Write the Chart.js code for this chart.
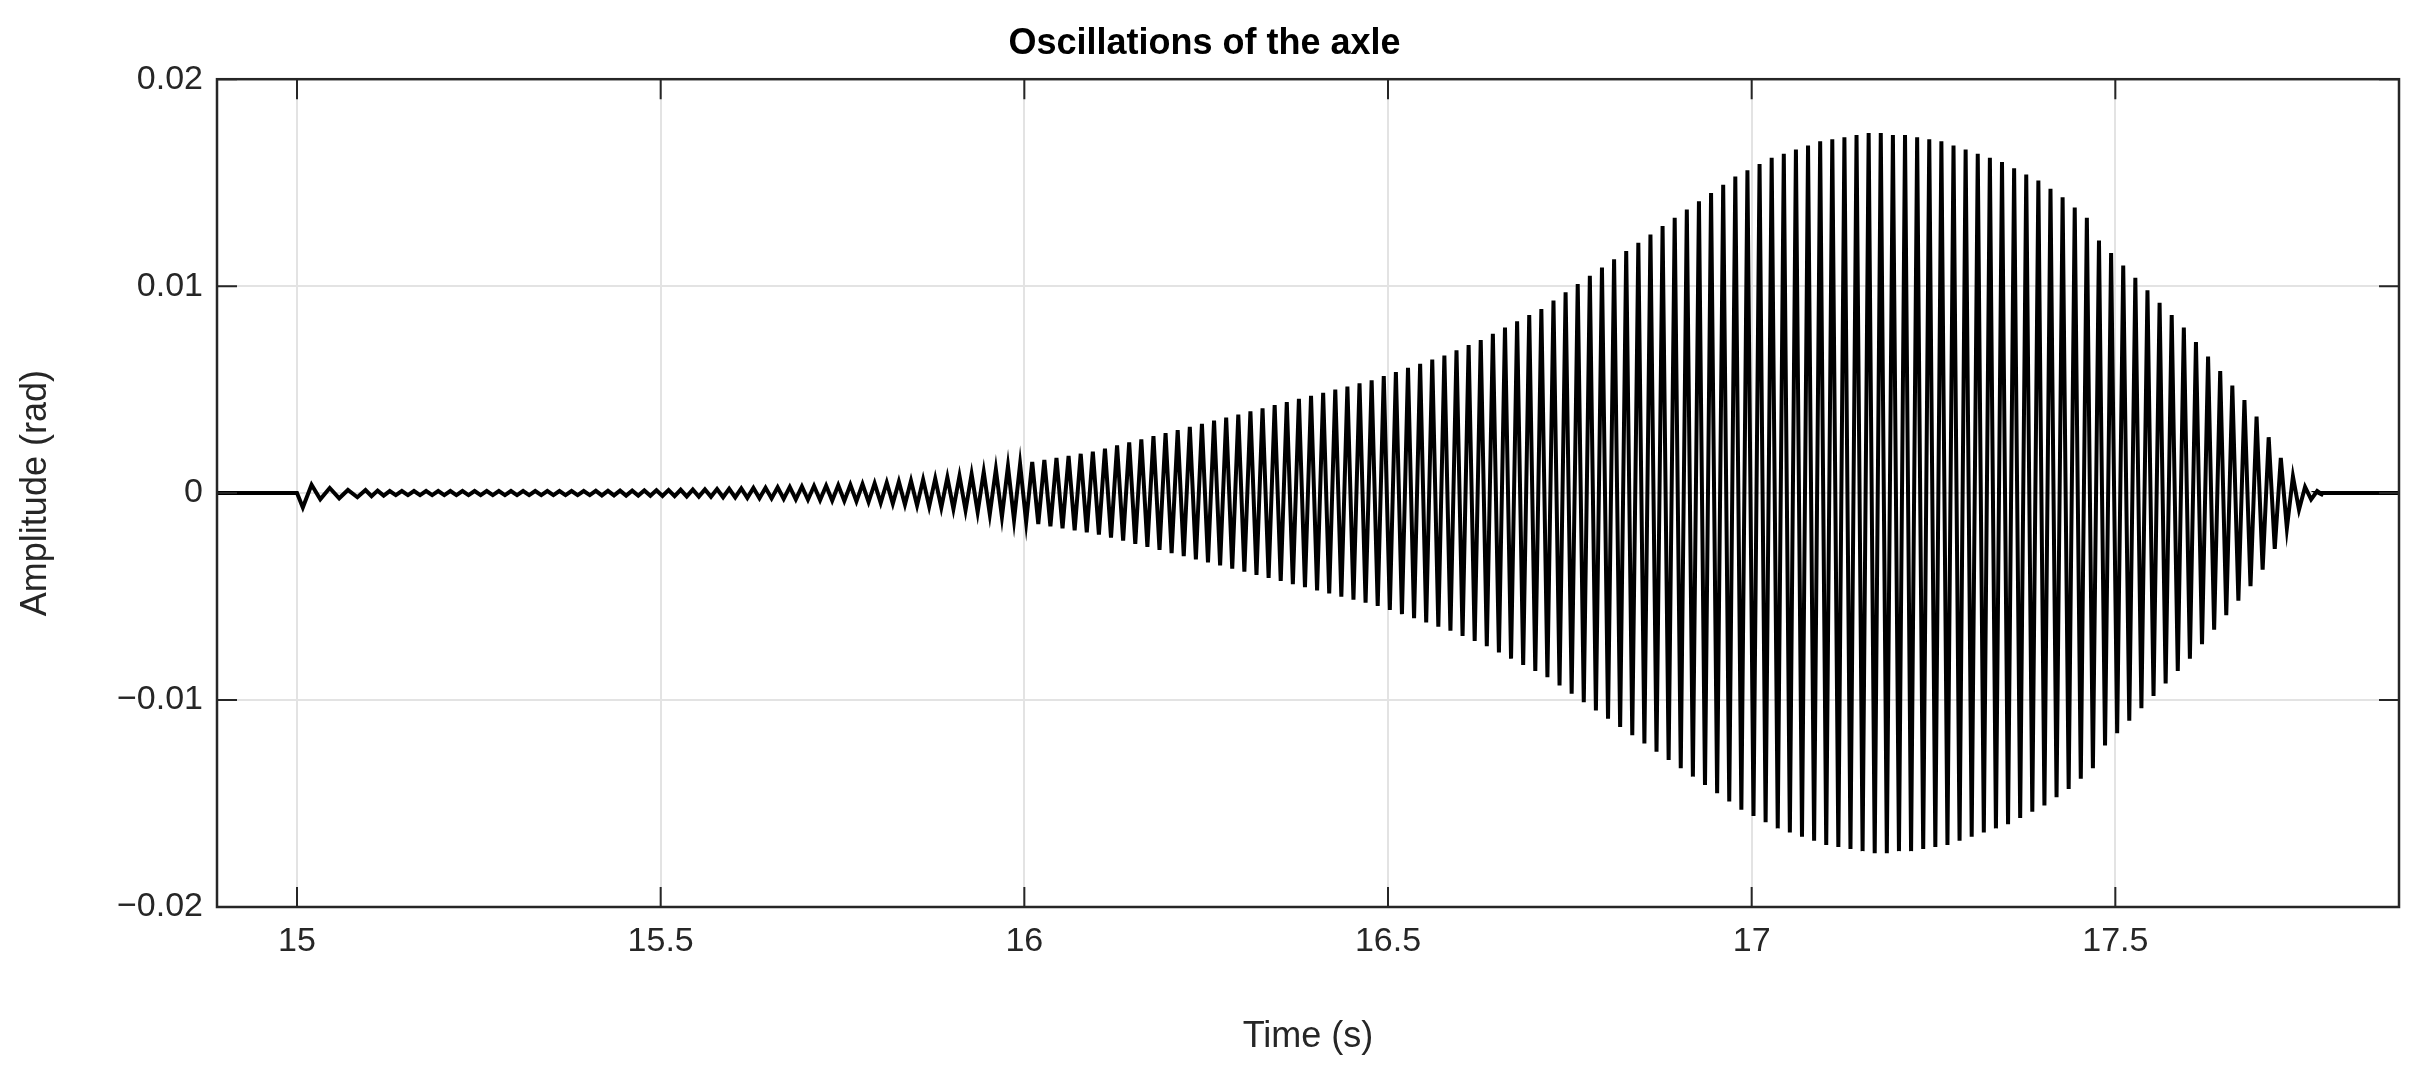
<!DOCTYPE html>
<html>
<head>
<meta charset="utf-8">
<script src="https://cdn.jsdelivr.net/npm/chart.js@4/dist/chart.umd.min.js"></script>
<style>
  html, body { margin: 0; padding: 0; background: #fff; }
  #wrap { width: 2421px; height: 1073px; }
</style>
</head>
<body>
<div id="wrap"><canvas id="axle" width="2421" height="1073"></canvas></div>
<script>
// axis ranges and ticks
const xTicks = [15, 15.5, 16, 16.5, 17, 17.5];
const yTicks = [-0.02, -0.01, 0, 0.01, 0.02];
const xRange = [14.89, 17.89];

// transient right after the excitation starts: [time (s), amplitude (1e-4 rad)]
const startTransient = [
    [14.89, 0], [15.0, 0], [15.008, -7], [15.02, 4], [15.032, -3],
    [15.045, 2.5], [15.058, -2.5], [15.07, 1.5], [15.083, -2]
];

// peak amplitude of each cycle (1e-4 rad), one cycle per 1/60 s from 15.09
const cycleStart = 15.09;
const cyclePeriod = 1 / 60;
const peakAmp = [
    1.5, 1.2, 1, 1, 1,
    1, 1, 1, 1, 1, 1,
    1, 1, 1, 1, 1, 1,
    1, 1, 1.1, 1.1, 1.2, 1.2,
    1.3, 1.4, 1.5, 1.6, 1.7, 1.8,
    2, 2.1, 2.3, 2.5, 2.6, 2.8,
    3, 3.2, 3.4, 3.6, 3.8, 4,
    4.3, 4.7, 5.1, 5.5, 6, 6.5,
    7, 7.6, 8.3, 9.2, 10.2, 11.5,
    13, 14, 15, 16, 17, 18,
    19, 20, 21.5, 23, 24.5, 26,
    27.5, 29, 30.5, 32, 33.5, 35,
    36.5, 38, 39.5, 41, 42.5, 44,
    45.5, 47, 48.5, 50, 51.5, 53,
    54.5, 56.5, 58.5, 60.5, 62.5, 64.5,
    66.5, 69, 71.5, 74, 77, 80,
    83, 86, 89, 93, 97, 101,
    105, 109, 113, 117, 121, 125,
    129, 133, 137, 141, 145, 149,
    153, 156, 159, 162, 164, 166,
    168, 170, 171, 172, 173, 174,
    174, 173, 173, 172, 171, 170,
    168, 166, 164, 162, 160, 157,
    154, 151, 147, 143, 138, 133,
    122, 116, 110, 104, 98, 92,
    86, 80, 73, 66, 59, 52,
    45, 37, 27, 17, 8, 3, 1
];
const endRest = [[17.78, 0], [17.89, 0]];

const points = startTransient.map(p => ({ x: p[0], y: p[1] * 1e-4 }));
peakAmp.forEach((a, i) => {
    const t = cycleStart + i * cyclePeriod;
    points.push({ x: t + cyclePeriod * 0.25, y: a * 1e-4 });
    points.push({ x: t + cyclePeriod * 0.75, y: -a * 1e-4 });
});
endRest.forEach(p => points.push({ x: p[0], y: p[1] }));

const fontFamily = '"Liberation Sans", Arial, sans-serif';
const boxPlugin = {
    id: 'box',
    afterDraw(chart) {
        const a = chart.chartArea, c = chart.ctx;
        c.save();
        c.strokeStyle = '#262626';
        c.lineWidth = 2.5;
        c.strokeRect(a.left, a.top, a.right - a.left, a.bottom - a.top);
        // inward ticks like the original
        c.lineWidth = 2;
        xTicks.forEach(v => {
            const px = chart.scales.x.getPixelForValue(v);
            c.beginPath();
            c.moveTo(px, a.bottom); c.lineTo(px, a.bottom - 20);
            c.moveTo(px, a.top); c.lineTo(px, a.top + 20);
            c.stroke();
        });
        yTicks.forEach(v => {
            const py = chart.scales.y.getPixelForValue(v);
            c.beginPath();
            c.moveTo(a.left, py); c.lineTo(a.left + 20, py);
            c.moveTo(a.right, py); c.lineTo(a.right - 20, py);
            c.stroke();
        });
        c.restore();
    }
};

const fmt = v => v === 0 ? '0' : String(v).replace('-', '\u2212');

new Chart(document.getElementById('axle').getContext('2d'), {
    type: 'line',
    data: {
        datasets: [{
            data: points,
            borderColor: '#000',
            borderWidth: 4,
            pointRadius: 0,
            tension: 0,
            fill: false
        }]
    },
    options: {
        responsive: false,
        animation: false,
        parsing: false,
        layout: { padding: { left: 10, right: 22, top: 0, bottom: 10 } },
        plugins: {
            legend: { display: false },
            tooltip: { enabled: false },
            title: {
                display: true,
                text: 'Oscillations of the axle',
                color: '#000',
                font: { family: fontFamily, size: 36, weight: 'bold' },
                padding: { top: 22, bottom: 14 }
            }
        },
        scales: {
            x: {
                type: 'linear',
                min: xRange[0],
                max: xRange[1],
                afterBuildTicks: s => { s.ticks = xTicks.map(v => ({ value: v })); },
                afterFit: s => { s.height = 156; },
                grid: { color: '#e3e3e3', lineWidth: 2, drawTicks: false },
                border: { display: false },
                ticks: {
                    color: '#262626', padding: 14,
                    font: { family: fontFamily, size: 34 },
                    callback: v => fmt(v)
                },
                title: {
                    display: true, text: 'Time (s)', color: '#262626',
                    font: { family: fontFamily, size: 36 }, padding: { top: 6 }
                }
            },
            y: {
                min: -0.02,
                max: 0.02,
                afterBuildTicks: s => { s.ticks = yTicks.map(v => ({ value: v })); },
                afterFit: s => { s.width = 207; },
                grid: { color: '#e3e3e3', lineWidth: 2, drawTicks: false },
                border: { display: false },
                ticks: {
                    color: '#262626', padding: 14,
                    font: { family: fontFamily, size: 34 },
                    callback: v => fmt(v)
                },
                title: {
                    display: true, text: 'Amplitude (rad)', color: '#262626',
                    font: { family: fontFamily, size: 36 }, padding: { bottom: 10 }
                }
            }
        }
    },
    plugins: [boxPlugin]
});
</script>
</body>
</html>
